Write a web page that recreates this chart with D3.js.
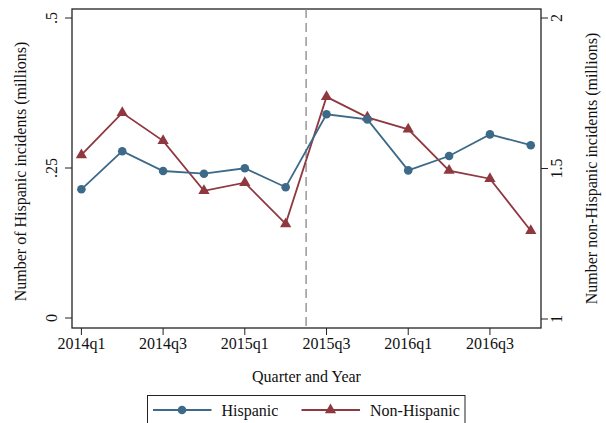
<!DOCTYPE html>
<html>
<head>
<meta charset="utf-8">
<script src="https://cdn.jsdelivr.net/npm/d3@7"></script>
<style>
  html, body { margin: 0; padding: 0; background: #fff; }
  svg { display: block; font-family: "Liberation Serif", "Times New Roman", serif; }
</style>
</head>
<body>
<svg id="chart" width="606" height="423"></svg>
<script>
// Quarterly incident counts (millions)
const quarters = ["2014q1","2014q2","2014q3","2014q4","2015q1","2015q2",
                  "2015q3","2015q4","2016q1","2016q2","2016q3","2016q4"];
const hispanic = [0.2145, 0.278, 0.245, 0.2405, 0.2495, 0.218,
                  0.3395, 0.331, 0.246, 0.270, 0.306, 0.288];
const nonHispanic = [1.545, 1.685, 1.592, 1.426, 1.453, 1.316,
                     1.738, 1.670, 1.630, 1.493, 1.466, 1.293];
const xTickLabels = ["2014q1","2014q3","2015q1","2015q3","2016q1","2016q3"];
const leftTicks = [0, 0.25, 0.5];
const leftTickLabels = ["0", ".25", ".5"];
const rightTicks = [1, 1.5, 2];
const rightTickLabels = ["1", "1.5", "2"];
const breakQuarter = 5.5; // policy change between 2015q2 and 2015q3
const seriesNames = ["Hispanic", "Non-Hispanic"];

const blue = "#3d6a89";
const red = "#8f3840";
const fontSize = 16;

const svg = d3.select("#chart");
const plot = { left: 72, right: 541, top: 9, bottom: 328 };

const x = d3.scaleLinear().domain([-0.23, 11.25]).range([plot.left, plot.right]);
const yL = d3.scaleLinear().domain([0, 0.5]).range([318, 18]);
const yR = d3.scaleLinear().domain([1, 2]).range([319, 18]);

// frame
svg.append("rect")
  .attr("x", plot.left).attr("y", plot.top)
  .attr("width", plot.right - plot.left).attr("height", plot.bottom - plot.top)
  .attr("fill", "none").attr("stroke", "#222").attr("stroke-width", 1.3);

// left axis
const gL = svg.append("g").attr("transform", `translate(${plot.left},0)`);
leftTicks.forEach((t, i) => {
  gL.append("line").attr("x1", -7).attr("x2", 0).attr("y1", yL(t)).attr("y2", yL(t))
    .attr("stroke", "#222").attr("stroke-width", 1);
  gL.append("text")
    .attr("transform", `translate(-15,${yL(t)}) rotate(-90)`)
    .attr("text-anchor", "middle").attr("font-size", fontSize).attr("fill", "#111")
    .text(leftTickLabels[i]);
});

// right axis
const gR = svg.append("g").attr("transform", `translate(${plot.right},0)`);
rightTicks.forEach((t, i) => {
  gR.append("line").attr("x1", 0).attr("x2", 7).attr("y1", yR(t)).attr("y2", yR(t))
    .attr("stroke", "#222").attr("stroke-width", 1);
  gR.append("text")
    .attr("transform", `translate(21,${yR(t)}) rotate(-90)`)
    .attr("text-anchor", "middle").attr("font-size", fontSize).attr("fill", "#111")
    .text(rightTickLabels[i]);
});

// x axis
xTickLabels.forEach(lab => {
  const q = quarters.indexOf(lab);
  svg.append("line").attr("x1", x(q)).attr("x2", x(q))
    .attr("y1", plot.bottom).attr("y2", plot.bottom + 7)
    .attr("stroke", "#222").attr("stroke-width", 1);
  svg.append("text").attr("x", x(q)).attr("y", 349)
    .attr("text-anchor", "middle").attr("font-size", fontSize).attr("fill", "#111")
    .text(lab);
});

// axis titles
svg.append("text").attr("x", (plot.left + plot.right) / 2).attr("y", 382)
  .attr("text-anchor", "middle").attr("font-size", fontSize).attr("fill", "#111")
  .text("Quarter and Year");
svg.append("text")
  .attr("transform", `translate(26,${(plot.top + plot.bottom) / 2 + 3}) rotate(-90)`)
  .attr("text-anchor", "middle").attr("font-size", fontSize).attr("fill", "#111")
  .text("Number of Hispanic incidents (millions)");
svg.append("text")
  .attr("transform", `translate(597,${(plot.top + plot.bottom) / 2}) rotate(-90)`)
  .attr("text-anchor", "middle").attr("font-size", fontSize).attr("fill", "#111")
  .text("Number non-Hispanic incidents (millions)");

// vertical reference line
svg.append("line")
  .attr("x1", x(breakQuarter)).attr("x2", x(breakQuarter))
  .attr("y1", plot.top).attr("y2", plot.bottom)
  .attr("stroke", "#888").attr("stroke-width", 1.3)
  .attr("stroke-dasharray", "9,5");

const tri = d3.symbol().type(d3.symbolTriangle).size(55);

// Non-Hispanic series (right axis)
const lineR = d3.line().x((d, i) => x(i)).y(d => yR(d));
svg.append("path").datum(nonHispanic).attr("d", lineR)
  .attr("fill", "none").attr("stroke", red).attr("stroke-width", 1.8);
svg.selectAll(".triR").data(nonHispanic).join("path")
  .attr("transform", (d, i) => `translate(${x(i)},${yR(d)})`)
  .attr("d", tri).attr("fill", red);

// Hispanic series (left axis)
const lineL = d3.line().x((d, i) => x(i)).y(d => yL(d));
svg.append("path").datum(hispanic).attr("d", lineL)
  .attr("fill", "none").attr("stroke", blue).attr("stroke-width", 1.8);
svg.selectAll(".dotL").data(hispanic).join("circle")
  .attr("cx", (d, i) => x(i)).attr("cy", d => yL(d)).attr("r", 4.3)
  .attr("fill", blue);

// legend
const lg = svg.append("g");
lg.append("rect").attr("x", 147.5).attr("y", 395.5).attr("width", 317.5).attr("height", 40)
  .attr("fill", "#fff").attr("stroke", "#222").attr("stroke-width", 1);
const legendItems = [
  { name: seriesNames[0], color: blue, x0: 153, marker: "circle" },
  { name: seriesNames[1], color: red, x0: 301.5, marker: "triangle" }
];
const ly = 410;
legendItems.forEach(it => {
  lg.append("line").attr("x1", it.x0).attr("x2", it.x0 + 58.5)
    .attr("y1", ly).attr("y2", ly).attr("stroke", it.color).attr("stroke-width", 1.8);
  if (it.marker === "circle") {
    lg.append("circle").attr("cx", it.x0 + 29).attr("cy", ly).attr("r", 4.3).attr("fill", it.color);
  } else {
    lg.append("path").attr("transform", `translate(${it.x0 + 29},${ly})`)
      .attr("d", tri).attr("fill", it.color);
  }
  lg.append("text").attr("x", it.x0 + 68.5).attr("y", ly + 5.5)
    .attr("font-size", fontSize).attr("fill", "#111").text(it.name);
});
</script>
</body>
</html>
